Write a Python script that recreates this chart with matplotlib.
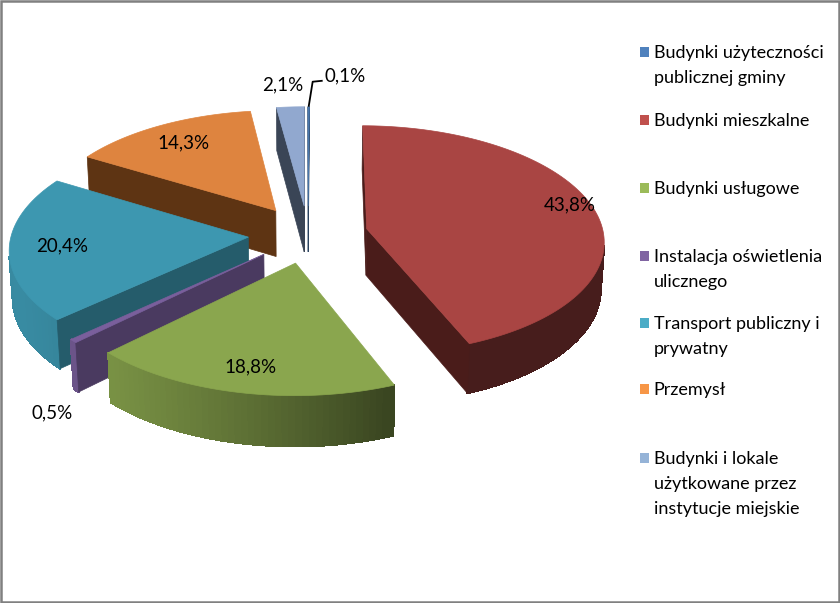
import numpy as np
import matplotlib
matplotlib.use("Agg")
import matplotlib.pyplot as plt
from matplotlib.patches import Polygon, Rectangle

# categories and shares (%), clockwise from 12 o'clock
categories = [
    "Budynki użyteczności\npublicznej gminy",
    "Budynki mieszkalne",
    "Budynki usługowe",
    "Instalacja oświetlenia\nulicznego",
    "Transport publiczny i\nprywatny",
    "Przemysł",
    "Budynki i lokale\nużytkowane przez\ninstytucje miejskie",
]
values = [0.1, 43.8, 18.8, 0.5, 20.4, 14.3, 2.1]

legend_colors = ["#4F81BD", "#C0504D", "#9BBB59", "#8064A2", "#4BACC6", "#F79646", "#95B3D7"]
top_colors = ["#4A78AE", "#A94543", "#8AA64E", "#7A5F9C", "#3D97B0", "#DE843F", "#91A8CF"]
side_colors = ["#2A4360", "#4A1C1A", "#3E5026", "#4A3A60", "#255C6B", "#5E3413", "#3A4556"]

# label placement: radius from slice tip and angle shift (deg)
label_r = [1.0, 0.91, 0.82, 1.41, 0.78, 0.78, 1.25]
label_da = [0, 2.8, 0, 14.2, 0, 0, 1.0]

# 3D view (perspective camera), fitted to the reference
cx, cy, f, D, e, ex, h, x0 = 305.5, 234.2, 2168.1, 9.152, np.radians(28.75), 0.253, 0.227, -0.011
cam = np.array([x0, -D * np.cos(e), D * np.sin(e)])
light = np.radians(-160)

cum = np.concatenate([[0], np.cumsum(values)]) / sum(values) * 360.0
th_start = 90 - cum[:-1]
th_end = 90 - cum[1:]
mids = (th_start + th_end) / 2


def proj(X, Y, Z):
    d = D + Y * np.cos(e) - Z * np.sin(e)
    sx = cx + f * (X - x0) / d
    sy = cy - f * (Y * np.sin(e) + Z * np.cos(e)) / d
    return sx, sy


def shade(col, s):
    c = np.array(matplotlib.colors.to_rgb(col))
    return tuple(np.clip(c * s, 0, 1))


fig = plt.figure(figsize=(8.4, 6.03), dpi=100)
ax = fig.add_axes([0, 0, 1, 1])
ax.set_xlim(0, 840)
ax.set_ylim(603, 0)
ax.axis("off")

slices = []
for k in range(len(values)):
    m = np.radians(mids[k])
    off = np.array([ex * np.cos(m), ex * np.sin(m)])
    n = max(3, int(abs(th_start[k] - th_end[k]) / 1.5) + 2)
    ths = np.radians(np.linspace(th_start[k], th_end[k], n))
    rim = off + np.c_[np.cos(ths), np.sin(ths)]
    faces = []
    # outer curved wall, shaded strip by strip
    strips = []
    for i in range(n - 1):
        tm = (ths[i] + ths[i + 1]) / 2
        nrm = np.array([np.cos(tm), np.sin(tm), 0])
        P = np.array([*(rim[i] + rim[i + 1]) / 2, -h / 2])
        if nrm @ (cam - P) > 0:
            s = 0.42 + 0.5 * max(0, np.cos(tm - light))
            pts = [(*rim[i], 0), (*rim[i + 1], 0), (*rim[i + 1], -h), (*rim[i], -h)]
            strips.append((pts, shade(top_colors[k], s)))
    if strips:
        upper = [q[0] for q, _ in strips] + [strips[-1][0][1]]
        lower = [q[3] for q, _ in strips] + [strips[-1][0][2]]
        back = upper + lower[::-1]
        mid_col = strips[len(strips) // 2][1]
        faces.append((back, mid_col, "back"))
        faces += [(q, c, "strip") for q, c in strips]
    # flat radial faces
    for th, sgn in ((th_start[k], 90), (th_end[k], -90)):
        a = np.radians(th)
        nrm = np.array([np.cos(a + np.radians(sgn)), np.sin(a + np.radians(sgn)), 0])
        rp = off + np.array([np.cos(a), np.sin(a)])
        P = np.array([*(off + rp) / 2, -h / 2])
        if nrm @ (cam - P) > 0:
            pts = [(*off, 0), (*rp, 0), (*rp, -h), (*off, -h)]
            faces.append((pts, side_colors[k], "side"))
    top = [(*off, 0)] + [(*q, 0) for q in rim]
    faces.append((top, top_colors[k], "top"))
    cen = off + 0.5 * np.array([np.cos(m), np.sin(m)])
    dist = np.linalg.norm(np.array([*cen, 0]) - cam)
    slices.append((dist, faces))

for dist, faces in sorted(slices, key=lambda t: -t[0]):
    for pts, col, kind in faces:
        pts = np.array(pts)
        sx, sy = proj(pts[:, 0], pts[:, 1], pts[:, 2])
        if kind == "strip":
            ax.add_patch(Polygon(np.c_[sx, sy], closed=True, facecolor=col,
                                 edgecolor=col, lw=0.9, antialiased=False))
        else:
            ax.add_patch(Polygon(np.c_[sx, sy], closed=True, facecolor=col,
                                 edgecolor=col, lw=0.5))

# data labels
pct = [f"{v:.1f}".replace(".", ",") + "%" for v in values]
for k in range(len(values)):
    m = np.radians(mids[k])
    a = np.radians(mids[k] + label_da[k])
    X = ex * np.cos(m) + label_r[k] * np.cos(a)
    Y = ex * np.sin(m) + label_r[k] * np.sin(a)
    sx, sy = proj(X, Y, 0.0)
    if k == 0:
        # tiny slice: leader line from the rim up to the label
        lx = [sx, sx + 4, sx + 14]
        ly = [sy, sy - 25, sy - 26]
        ax.plot(lx, ly, color="black", lw=1.3, solid_capstyle="butt")
        ax.text(lx[-1] + 2, ly[-1] - 5, pct[k], fontsize=13.5, family="Lato",
                ha="left", va="center")
    else:
        ax.text(sx, sy, pct[k], fontsize=13.5, family="Lato", ha="center", va="center")

# legend: square marker + one text line per row
leg_y = [52, 120, 188, 256, 323, 389, 458]
line_gap = 25
for k, lab in enumerate(categories):
    ax.add_patch(Rectangle((639.5, leg_y[k] - 4.75), 9.5, 9.5, color=legend_colors[k], lw=0))
    for i, line in enumerate(lab.split("\n")):
        ax.text(653.5, leg_y[k] + 6 + i * line_gap, line, fontsize=13.0, family="Lato",
                va="baseline", ha="left")

ax.add_patch(Rectangle((1.2, 1.2), 837.6, 600.6, fill=False, edgecolor="#808080", lw=1.8))
fig.savefig("out.png", dpi=100)
